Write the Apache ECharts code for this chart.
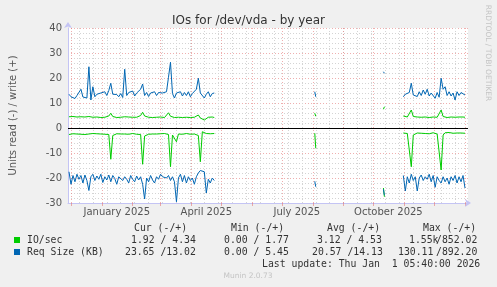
<!DOCTYPE html>
<html>
<head>
<meta charset="utf-8">
<title>IOs for /dev/vda - by year</title>
<script src="https://cdn.jsdelivr.net/npm/echarts@6/dist/echarts.min.js"></script>
<style>
  html, body { margin: 0; padding: 0; background: #f0f0f0; }
  #chart { width: 497px; height: 287px; }
</style>
</head>
<body>
<div id="chart"></div>
<script>
const DAY = 86400000;
const utc = (s) => Date.parse(s + 'T00:00:00Z');

// time range of the graph
const tMin = utc('2024-11-28');
const tMax = utc('2026-01-04');

// month starts (red grid) and x labels
const monthStarts = ['2024-12-01', '2025-01-01', '2025-02-01', '2025-03-01', '2025-04-01', '2025-05-01',
  '2025-06-01', '2025-07-01', '2025-08-01', '2025-09-01', '2025-10-01', '2025-11-01', '2025-12-01', '2026-01-01'];
const xLabelDates = ['2025-01-16', '2025-04-16', '2025-07-16', '2025-10-16'];
const xLabelTexts = ['January 2025', 'April 2025', 'July 2025', 'October 2025'];

// sample segments: start date + days between samples
const segStart = ['2024-11-29', '2025-08-03', '2025-10-11', '2025-10-31'];
const segStep = [2, 1, 1, 2];

// IO/sec write (+)
const ioWrite = [
  [4.5, 4.3, 4.6, 4.2, 4.4, 4.3, 4.5, 4.2, 4.4, 4.3, 4.6, 4.1, 4.3, 4.2, 4.4, 4.3, 4.2, 4.4, 4.3, 4.5,
   4.8, 5.9, 4.6, 4.3, 4.2, 4.4, 4.3, 4.2, 4.5, 4.3, 4.4, 4.2, 4.3, 4.4, 4.3, 4.5, 5.0, 6.3, 4.8, 4.4,
   4.3, 4.5, 4.2, 4.4, 4.3, 4.2, 4.4, 4.3, 4.2, 4.5, 6.1, 4.7, 4.4, 4.2, 4.5, 4.3, 4.6, 4.2, 4.4, 4.3,
   4.5, 4.2, 4.4, 4.3, 4.6, 5.2, 4.0, 3.4, 3.2, 4.0, 4.3, 4.2, 4.4, 4.2],
  [5.9, 4.7],
  [7.5, 8.5],
  [4.8, 4.5, 4.4, 5.0, 7.2, 4.6, 4.3, 4.4, 4.2, 4.3, 4.2, 4.4, 4.3, 4.2, 4.3, 4.4, 4.2, 4.3, 4.5, 7.2,
   4.6, 4.3, 4.2, 4.3, 4.4, 4.2, 4.3, 4.2, 4.4, 4.3, 4.4, 4.3]
];

// IO/sec read (-)
const ioRead = [
  [-2.6, -2.4, -2.3, -2.5, -2.4, -2.2, -2.5, -2.4, -2.6, -2.3, -2.4, -2.5, -2.2, -2.4, -2.3, -2.5, -2.4, -2.3, -2.5, -2.4,
   -2.6, -12.5, -3.0, -2.4, -2.3, -2.5, -2.4, -2.2, -2.4, -2.3, -2.5, -2.4, -2.2, -2.4, -2.5, -2.3, -2.6, -14.5, -3.2, -2.4,
   -2.5, -2.3, -2.4, -2.2, -2.4, -2.5, -2.3, -2.4, -2.2, -2.5, -2.6, -15.5, -2.8, -2.3, -5.5, -2.4, -2.3, -2.5, -2.4, -2.2,
   -2.4, -2.5, -2.3, -2.4, -2.6, -3.0, -13.5, -1.5, -1.8, -2.2, -2.0, -2.3, -2.1, -2.2],
  [-2.1, -8.1],
  [-24.0, -27.5],
  [-2.0, -1.8, -2.2, -2.6, -15.5, -2.8, -2.2, -2.0, -2.3, -2.1, -1.9, -2.2, -2.0, -2.3, -2.1, -1.9, -2.2, -2.4, -2.6, -16.8,
   -2.8, -1.9, -2.0, -1.8, -2.0, -2.1, -1.9, -2.0, -1.8, -2.0, -1.9, -2.1]
];

// Req Size (KB) write (+)
const sizeWrite = [
  [13.5, 12.5, 13.2, 11.8, 13.0, 12.2, 15.5, 12.4, 13.0, 12.0, 24.5, 11.2, 16.5, 12.5, 13.5, 12.8, 14.0, 13.2, 14.5, 13.0,
   15.0, 17.9, 13.5, 12.8, 13.4, 12.5, 13.8, 12.2, 23.5, 13.0, 14.2, 13.5, 14.8, 12.8, 14.0, 13.2, 15.5, 17.6, 13.0, 14.2,
   12.6, 14.0, 13.4, 14.5, 13.0, 14.2, 13.5, 14.0, 13.2, 14.5, 20.3, 26.3, 13.8, 12.0, 14.0, 13.2, 14.5, 12.8, 14.2, 13.0,
   14.5, 12.5, 13.8, 13.2, 15.5, 19.9, 14.0, 13.5, 12.0, 13.5, 14.5, 12.5, 13.8, 14.0],
  [14.5, 12.5],
  [22.5, 21.9],
  [12.5, 13.5, 12.8, 14.2, 17.9, 13.2, 14.0, 12.6, 14.5, 13.0, 15.2, 13.5, 15.5, 12.8, 14.0, 13.5, 11.9, 14.2, 12.3, 19.9,
   15.5, 16.5, 13.0, 14.5, 12.8, 14.0, 11.2, 14.5, 13.0, 14.2, 13.5, 13.2]
];

// Req Size (KB) read (-)
const sizeRead = [
  [-17.5, -22.5, -19.0, -21.5, -18.5, -20.5, -19.0, -22.0, -18.8, -21.0, -25.0, -19.5, -18.5, -21.0, -19.2, -20.5, -18.5, -21.8, -19.5, -20.8,
   -18.8, -21.5, -19.0, -20.2, -22.5, -19.5, -18.8, -21.0, -19.5, -20.5, -22.0, -19.0, -20.5, -21.5, -19.2, -20.8, -19.5, -22.5, -28.4, -20.0,
   -21.5, -19.0, -20.8, -22.0, -19.5, -20.5, -18.5, -19.5, -18.8, -20.0, -19.0, -21.0, -19.5, -21.5, -29.5, -20.0, -18.5, -21.5, -19.0, -22.0,
   -19.5, -21.0, -20.0, -22.5, -19.5, -18.0, -17.0, -16.8, -17.5, -26.0, -20.5, -22.0, -20.0, -21.0],
  [-21.3, -23.5],
  [-24.5, -26.9],
  [-19.0, -25.2, -19.5, -22.0, -18.5, -21.0, -19.5, -25.2, -20.0, -18.8, -21.0, -19.5, -20.5, -18.5, -21.5, -19.0, -23.7, -19.5, -21.0, -22.0,
   -19.5, -21.5, -20.0, -22.5, -19.5, -21.0, -19.0, -22.0, -19.5, -21.5, -19.0, -24.0]
];

const GREEN = '#00cc00';
const BLUE = '#0066b3';
const MAJOR = 'rgba(225, 110, 110, 0.55)';
const MINOR = '#d4d4d4';
const AXIS = '#c4c4f4';
const SANS = 'DejaVu Sans';
const MONO = 'DejaVu Sans Mono';

// turn segments into [time, value] pairs with a null between them
function build(segs) {
  const out = [];
  segs.forEach((vals, s) => {
    const t0 = utc(segStart[s]);
    vals.forEach((v, i) => out.push([t0 + i * segStep[s] * DAY, v]));
    out.push([t0 + vals.length * segStep[s] * DAY, null]);
  });
  return out;
}

// biweekly minor grid (mondays)
const minorGrid = [];
for (let t = utc('2024-12-09'); t < tMax; t += 14 * DAY) minorGrid.push(t);

function lineSeries(name, color, segs, extra) {
  return Object.assign({
    name: name,
    type: 'line',
    xAxisIndex: 1,
    data: build(segs),
    showSymbol: false,
    connectNulls: false,
    color: color,
    lineStyle: { width: 1, color: color },
    emphasis: { disabled: true },
  }, extra || {});
}

const chart = echarts.init(document.getElementById('chart'), null, { renderer: 'canvas' });

const txt = (text, x, y, opts) => ({
  type: 'text', x: x, y: y, silent: true,
  style: Object.assign({ text: text, fill: '#333', fontFamily: MONO, fontSize: 9.8, verticalAlign: 'middle' }, opts || {}),
});

const labelTimes = xLabelDates.map(utc);

const option = {
  animation: false,
  backgroundColor: '#f0f0f0',
  title: {
    text: 'IOs for /dev/vda - by year',
    left: 'center',
    top: 10,
    textStyle: { fontFamily: SANS, fontSize: 12, fontWeight: 'normal', color: '#333' },
  },
  legend: {
    data: ['IO/sec', 'Req Size (KB)'],
    orient: 'vertical',
    left: 14,
    top: 234,
    padding: 0,
    itemGap: 0,
    itemWidth: 6,
    itemHeight: 6,
    icon: 'rect',
    selectedMode: false,
    textStyle: { fontFamily: MONO, fontSize: 9.8, color: '#333', lineHeight: 12, padding: [0, 0, 0, 2] },
  },
  grid: {
    left: 66, top: 28, width: 402, height: 175,
    show: true, backgroundColor: '#ffffff', borderWidth: 0,
  },
  xAxis: [
    {
      // biweekly minor grid
      type: 'value', min: tMin, max: tMax, position: 'bottom',
      axisLine: { show: false, onZero: false },
      axisTick: { show: false, customValues: minorGrid },
      axisLabel: { show: false, customValues: minorGrid },
      splitLine: { show: true, lineStyle: { color: MINOR, type: [1, 2] } },
    },
    {
      // month grid and labels
      type: 'value', min: tMin, max: tMax, position: 'bottom',
      axisLine: {
        show: true, onZero: false, lineStyle: { color: AXIS },
        symbol: ['none', 'arrow'], symbolSize: [6, 6], symbolOffset: [0, 3],
      },
      axisTick: { show: true, length: 3, customValues: monthStarts.map(utc), lineStyle: { color: MAJOR } },
      axisLabel: {
        customValues: labelTimes,
        margin: 4,
        color: '#555', fontFamily: SANS, fontSize: 10,
        formatter: (v) => {
          const i = labelTimes.findIndex((d) => Math.abs(d - v) < DAY);
          return i >= 0 ? xLabelTexts[i] : '';
        },
      },
      splitLine: { show: true, lineStyle: { color: MAJOR, type: [1, 2] } },
    },
  ],
  yAxis: {
    type: 'value', min: -30, max: 40, interval: 10,
    name: 'Units read (-) / write (+)',
    nameLocation: 'middle', nameGap: 50,
    nameTextStyle: { fontFamily: SANS, fontSize: 10, color: '#555' },
    axisLine: {
      show: true, onZero: false, lineStyle: { color: AXIS },
      symbol: ['none', 'arrow'], symbolSize: [6, 6], symbolOffset: [0, 6],
    },
    axisTick: { show: false },
    axisLabel: { margin: 6, color: '#555', fontFamily: SANS, fontSize: 10 },
    splitLine: { show: true, lineStyle: { color: MAJOR, type: [1, 2] } },
    minorTick: { show: false, splitNumber: 5 },
    minorSplitLine: { show: true, lineStyle: { color: MINOR, type: [1, 2] } },
  },
  series: [
    lineSeries('IO/sec', GREEN, ioRead),
    lineSeries('Req Size (KB)', BLUE, sizeRead),
    lineSeries('IO/sec', GREEN, ioWrite, {
      markLine: {
        silent: true, symbol: 'none', label: { show: false },
        lineStyle: { color: '#000', width: 1, type: 'solid' },
        data: [{ yAxis: 0 }],
      },
    }),
    lineSeries('Req Size (KB)', BLUE, sizeWrite),
  ],
  graphic: [
    {
      type: 'text', x: 488, y: 53, rotation: -Math.PI / 2, silent: true,
      style: { text: 'RRDTOOL / TOBI OETIKER', fill: '#c4c4c4', fontFamily: SANS, fontSize: 7.5, align: 'center', verticalAlign: 'middle' },
    },
    txt('Cur (-/+)', 134, 228),
    txt('Min (-/+)', 231, 228),
    txt('Avg (-/+)', 327, 228),
    txt('Max (-/+)', 423, 228),
    txt('1.92 / 4.34', 131, 240),
    txt('0.00 / 1.77', 224, 240),
    txt('3.12 / 4.53', 317, 240),
    txt('1.55k', 409, 240),
    txt('/852.02', 436, 240),
    txt('23.65 /13.02', 125, 252),
    txt('0.00 / 5.45', 224, 252),
    txt('20.57 /14.13', 312, 252),
    txt('130.11', 398, 252),
    txt('/892.20', 436, 252),
    txt('Last update: Thu Jan  1 05:40:00 2026', 262, 264),
    {
      type: 'text', x: 248, y: 276, silent: true,
      style: { text: 'Munin 2.0.73', fill: '#c4c4c4', fontFamily: SANS, fontSize: 7.5, align: 'center', verticalAlign: 'middle' },
    },
  ],
};

chart.setOption(option);
window.addEventListener('resize', () => chart.resize());
</script>
</body>
</html>
